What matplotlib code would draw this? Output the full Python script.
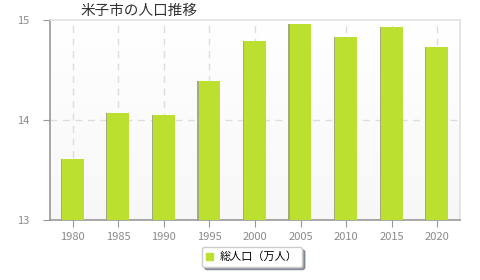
import matplotlib
matplotlib.use("Agg")
import matplotlib.pyplot as plt
import numpy as np

plt.rcParams['font.family'] = ['Noto Sans CJK JP', 'DejaVu Sans']

years = ["1980", "1985", "1990", "1995", "2000", "2005", "2010", "2015", "2020"]
population = [13.61, 14.07, 14.05, 14.39, 14.79, 14.96, 14.83, 14.93, 14.73]
yticks = [13, 14, 15]

fig = plt.figure(figsize=(4.8, 2.8), dpi=100)
ax = fig.add_axes([50/480, 60/280, 410/480, 200/280])

x = np.arange(len(years))

# background gradient
grad = np.linspace(1.0, 0.97, 100).reshape(-1, 1)
ax.imshow(np.dstack([grad, grad, grad]), extent=[-0.5, 8.5, 13, 15],
          aspect='auto', zorder=0, origin='upper')

# shadow + bars
ax.bar(x - 0.02, [p - 13 for p in population], bottom=13, width=0.49,
       color='#a4aa7c', zorder=2)
ax.bar(x, [p - 13 for p in population], bottom=13, width=0.48,
       color='#bbe02f', zorder=3)

ax.set_xlim(-0.5, 8.5)
ax.set_ylim(13, 15)
ax.set_xticks(x)
ax.set_xticklabels(years)
ax.set_yticks(yticks)

for xi in x:
    ax.axvline(xi, color='#dddddd', linestyle=(0, (5, 4)), linewidth=1, zorder=1)
ax.axhline(14, color='#dddddd', linestyle=(0, (5, 4)), linewidth=1, zorder=1)

for s in ['left', 'bottom']:
    ax.spines[s].set_color('#999999')
    ax.spines[s].set_linewidth(1.2)
for s in ['top', 'right']:
    ax.spines[s].set_color('#e0e0e0')
    ax.spines[s].set_linewidth(1.2)

ax.tick_params(axis='both', colors='#999999', labelcolor='#8a8a8a', labelsize=8, length=5)
ax.tick_params(axis='x', pad=4)
ax.tick_params(axis='y', pad=10)

fig.text(80/480, 1 - 11/280, "米子市の人口推移", fontsize=10.5, color='#333333',
         ha='left', va='center')

leg = fig.legend(handles=[plt.Rectangle((0, 0), 1, 1, color='#bbe02f')],
                 labels=["総人口（万人）"], loc='center', bbox_to_anchor=(252/480, 1 - 257/280),
                 fontsize=8, frameon=True, fancybox=True,
                 shadow={'color': '#556070', 'alpha': 0.6, 'ox': 2, 'oy': -2},
                 handlelength=0.6, handleheight=0.6, handletextpad=0.6,
                 borderpad=0.4, edgecolor='#cccccc')

fig.savefig("out.png", dpi=100)
